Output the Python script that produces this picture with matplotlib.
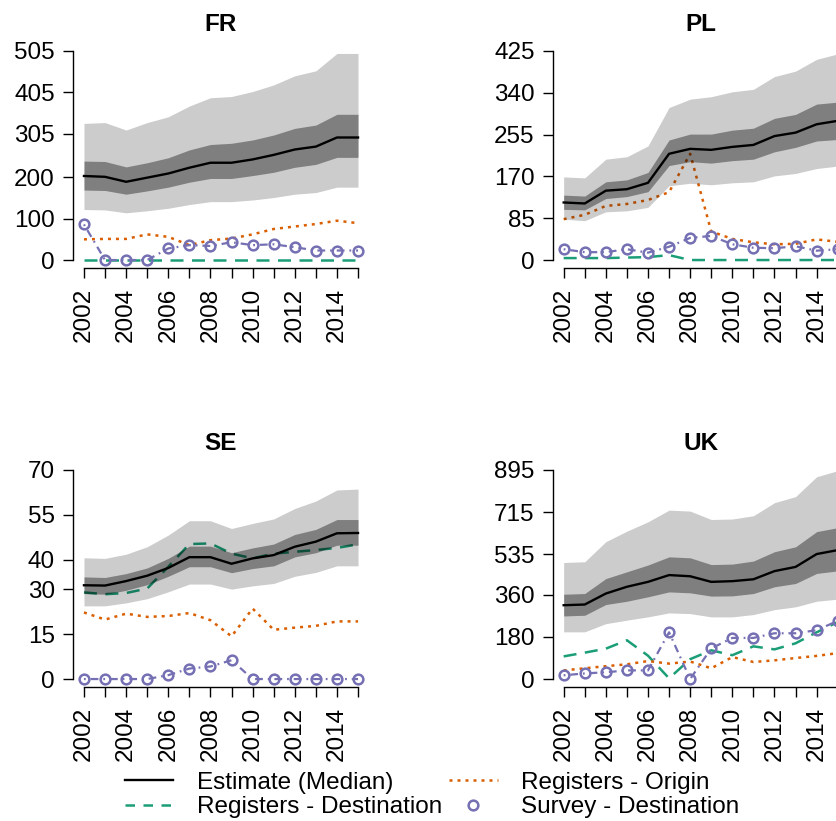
import numpy as np
import matplotlib.pyplot as plt
from matplotlib.lines import Line2D

plt.rcParams['font.family'] = ['Liberation Sans', 'DejaVu Sans']

years = np.arange(2002, 2016)

# FR
fr_med = [203, 201, 189, 199, 209, 223, 235, 235, 243, 254, 267, 274, 296, 296]
fr_in_hi = [239, 238, 225, 235, 247, 266, 279, 282, 290, 302, 318, 326, 352, 352]
fr_in_lo = [169, 168, 159, 167, 176, 188, 197, 197, 204, 212, 224, 231, 248, 248]
fr_out_hi = [330, 332, 314, 332, 346, 372, 392, 395, 407, 423, 445, 457, 499, 499]
fr_out_lo = [122, 121, 114, 119, 125, 134, 141, 141, 145, 151, 159, 163, 176, 176]
fr_orig = [50, 51, 51, 62, 56, 36, 48, 52, 62, 75, 81, 87, 95, 89]
fr_dest = [0, 0, 0, 0, 0, 0, 0, 0, 0, 0, 0, 0, 0, 0]
fr_surv = [86, 0, 0, 0, 28, 36, 34, 43, 36, 38, 31, 23, 23, 23]

# PL
pl_med = [117, 115, 141, 144, 157, 216, 226, 224, 230, 234, 252, 259, 276, 283]
pl_in_hi = [132, 130, 159, 163, 178, 244, 256, 256, 264, 268, 288, 296, 317, 321]
pl_in_lo = [103, 102, 125, 129, 139, 192, 200, 197, 202, 205, 220, 229, 242, 245]
pl_out_hi = [169, 167, 205, 210, 232, 310, 327, 332, 342, 347, 373, 384, 408, 419]
pl_out_lo = [83, 80, 98, 100, 107, 151, 156, 153, 157, 159, 171, 176, 186, 191]
pl_orig = [83, 92, 110, 114, 122, 138, 216, 58, 43, 36, 32, 33, 42, 37]
pl_dest = [4, 4, 4, 5, 6, 10, 0, 0, 0, 0, 0, 0, 0, 0]
pl_surv = [22, 16, 16, 22, 15, 27, 45, 49, 32, 25, 24, 28, 19, 22]

# SE
se_med = [31.4, 31.3, 32.8, 34.6, 37.2, 40.8, 40.8, 38.6, 40.4, 41.5, 44.3, 46.0, 48.8, 48.9]
se_in_hi = [34.2, 34.0, 35.3, 37.2, 40.4, 44.5, 44.5, 42.3, 43.9, 45.2, 48.4, 50.1, 53.4, 53.4]
se_in_lo = [28.6, 28.4, 29.7, 31.6, 34.4, 37.6, 37.6, 35.6, 37.0, 37.9, 40.9, 42.3, 44.8, 44.8]
se_out_hi = [40.6, 40.4, 41.8, 44.3, 48.2, 53.0, 53.0, 50.4, 52.1, 53.6, 57.1, 59.6, 63.3, 63.6]
se_out_lo = [24.5, 24.5, 25.5, 26.9, 29.2, 31.8, 31.8, 30.1, 31.2, 32.0, 34.4, 35.7, 37.9, 37.9]
se_orig = [22.3, 19.9, 21.9, 20.8, 21.1, 22.1, 19.7, 14.3, 23.6, 16.5, 17.2, 17.8, 19.3, 19.3]
se_dest = [29.0, 28.4, 28.8, 30.3, 37.6, 45.2, 45.4, 42.0, 40.4, 42.0, 42.6, 43.2, 43.9, 45.1]
se_surv = [0, 0, 0, 0, 1.3, 3.5, 4.2, 6.3, 0, 0, 0, 0, 0, 0]

# UK
uk_med = [316, 319, 366, 395, 416, 445, 440, 416, 419, 427, 462, 480, 535, 552]
uk_in_hi = [363, 366, 430, 459, 488, 523, 519, 490, 492, 505, 545, 566, 631, 648]
uk_in_lo = [270, 273, 319, 333, 352, 373, 369, 355, 356, 366, 395, 409, 452, 463]
uk_out_hi = [499, 502, 588, 633, 673, 723, 719, 683, 685, 699, 755, 781, 866, 892]
uk_out_lo = [202, 202, 237, 252, 266, 283, 280, 266, 266, 276, 297, 309, 333, 342]
uk_orig = [37, 46, 55, 63, 77, 66, 75, 46, 94, 73, 80, 90, 99, 111]
uk_dest = [97, 113, 130, 166, 100, 3, 85, 123, 102, 140, 127, 153, 200, 244]
uk_surv = [16, 24, 29, 37, 37, 200, 0, 131, 176, 176, 196, 196, 209, 249]

panels = [
    ('FR', fr_med, fr_in_lo, fr_in_hi, fr_out_lo, fr_out_hi, fr_orig, fr_dest, fr_surv,
     [0, 100, 200, 305, 405, 505]),
    ('PL', pl_med, pl_in_lo, pl_in_hi, pl_out_lo, pl_out_hi, pl_orig, pl_dest, pl_surv,
     [0, 85, 170, 255, 340, 425]),
    ('SE', se_med, se_in_lo, se_in_hi, se_out_lo, se_out_hi, se_orig, se_dest, se_surv,
     [0, 15, 30, 40, 55, 70]),
    ('UK', uk_med, uk_in_lo, uk_in_hi, uk_out_lo, uk_out_hi, uk_orig, uk_dest, uk_surv,
     [0, 180, 360, 535, 715, 895]),
]

green = '#1B9E77'
orange = '#D95F02'
purple = '#7570B3'

W, H = 837, 821
fig = plt.figure(figsize=(W / 100, H / 100), dpi=100)

# plot regions in pixels (left, top); right column runs past the figure edge
boxes = [(73, 42.6), (552.7, 42.6), (73, 461.6), (552.7, 461.6)]
bw, bh = 296, 225.8

for (name, med, in_lo, in_hi, out_lo, out_hi, orig, dest, surv, yt), (bx, by) in zip(panels, boxes):
    ax = fig.add_axes([bx / W, 1 - (by + bh) / H, bw / W, bh / H])
    ymax = yt[-1]

    ax.plot(years, dest, color=green, lw=1.8, dashes=(5.2, 3.4), zorder=1)
    ax.plot(years, orig, color=orange, lw=1.8, dashes=(1.2, 2.0), zorder=1)
    ax.plot(years, surv, color=purple, lw=1.6, dashes=(0.8, 2.2, 3.5, 2.2),
            marker='o', ms=7, mfc='none', mec=purple, mew=1.8, zorder=1)

    # uncertainty bands, drawn semi-transparent over the register lines
    ax.fill_between(years, out_lo, out_hi, color='black', alpha=0.2, lw=0, zorder=2)
    ax.fill_between(years, in_lo, in_hi, color='black', alpha=0.375, lw=0, zorder=2)
    ax.plot(years, med, color='black', lw=1.7, zorder=3)

    ax.set_xlim(2002 - 0.52, 2015 + 0.52)
    ax.set_ylim(-0.04 * ymax, 1.04 * ymax)

    for s in ['top', 'right']:
        ax.spines[s].set_visible(False)
    ax.spines['left'].set_bounds(0, ymax)
    ax.spines['bottom'].set_bounds(2002, 2015)
    ax.spines['left'].set_linewidth(1.0)
    ax.spines['bottom'].set_linewidth(1.0)

    ax.set_yticks(yt)
    ax.set_yticklabels([str(v) for v in yt])
    ax.set_xticks(years)
    ax.set_xticklabels([str(y) if y % 2 == 0 else '' for y in years], rotation=90)
    ax.tick_params(axis='both', length=7, width=1.0, labelsize=17.5)
    ax.tick_params(axis='y', pad=6)
    ax.tick_params(axis='x', pad=7)

    ax.set_title(name, fontsize=17.5, fontweight='bold', pad=8)

handles = [
    Line2D([], [], color='black', lw=1.7),
    Line2D([], [], color=green, lw=1.8, dashes=(3.8, 3.4)),
    Line2D([], [], color=orange, lw=1.8, dashes=(1.2, 2.0)),
    Line2D([], [], color=purple, ls='none', marker='o', ms=7, mfc='none', mew=1.8),
]
labels = ['Estimate (Median)', 'Registers - Destination', 'Registers - Origin',
          'Survey - Destination']
fig.legend(handles, labels, ncol=2, loc='center left', bbox_to_anchor=(120 / W, 1 - 795 / H),
           frameon=False, fontsize=17.5, handlelength=2.0, handletextpad=0.95,
           columnspacing=0.3, labelspacing=0.1, borderaxespad=0.0, borderpad=0.2)

fig.savefig('out.png', dpi=100)
